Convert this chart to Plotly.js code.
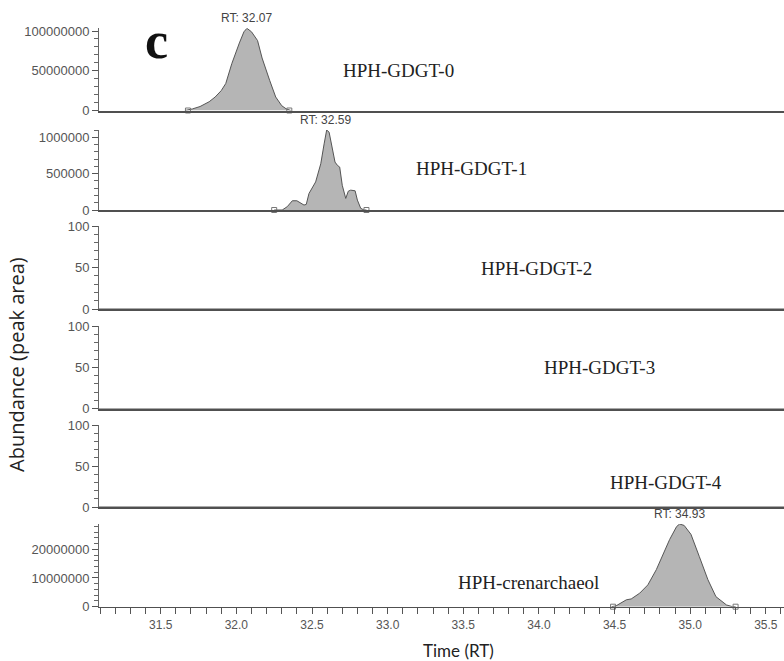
<!DOCTYPE html>
<html>
<head>
<meta charset="utf-8">
<script src="https://cdn.plot.ly/plotly-3.0.1.min.js"></script>
<style>html,body{margin:0;padding:0;background:#fff;}#chart{width:784px;height:661px;}</style>
</head>
<body>
<div id="chart"></div>
<script>
// ---- data ----
const compounds = ["HPH-GDGT-0", "HPH-GDGT-1", "HPH-GDGT-2", "HPH-GDGT-3", "HPH-GDGT-4", "HPH-crenarchaeol"];
const xRange = [31.092, 35.62];

// HPH-GDGT-0 chromatogram (retention time, abundance)
const rt0 = [31.66, 31.71, 31.76, 31.82, 31.86, 31.90, 31.93, 31.97, 32.02, 32.05, 32.07, 32.10, 32.14, 32.17, 32.22, 32.26, 32.30, 32.33, 32.36];
const ab0 = [0, 2e6, 5e6, 11e6, 17e6, 25e6, 34e6, 59e6, 85e6, 99e6, 103.4e6, 99e6, 88e6, 66e6, 38e6, 17e6, 6e6, 2e6, 0];

// HPH-GDGT-1 chromatogram
const rt1 = [32.25, 32.303, 32.336, 32.37, 32.40, 32.447, 32.462, 32.48, 32.524, 32.558, 32.58, 32.597, 32.613, 32.63, 32.652, 32.668, 32.683, 32.70, 32.723, 32.74, 32.756, 32.785, 32.80, 32.822, 32.844, 32.86];
const ab1 = [0, 0, 45000, 127000, 127000, 68000, 77000, 227000, 386000, 636000, 909000, 1100000, 1070000, 909000, 659000, 614000, 590000, 340000, 159000, 259000, 273000, 264000, 136000, 23000, 0, 0];

// HPH-crenarchaeol chromatogram
const rt5 = [34.48, 34.51, 34.578, 34.61, 34.666, 34.72, 34.776, 34.82, 34.864, 34.91, 34.93, 34.96, 35.005, 35.06, 35.117, 35.17, 35.24, 35.28, 35.30];
const ab5 = [0, 0.3e6, 2.4e6, 2.7e6, 4.7e6, 7.6e6, 12.9e6, 18.1e6, 23.4e6, 27.9e6, 28.8e6, 28.3e6, 25.2e6, 17.5e6, 9.4e6, 3.5e6, 0.6e6, 0, 0];

// empty traces (GDGT-2, -3, -4)
const rtFlat = [31.092, 35.62];
const abFlat = [0, 0];

// peak apex labels
const apexPanels = [1, 2, 6];
const apexRT = [32.07, 32.59, 34.93];
const apexAb = [103.4e6, 1.1e6, 28.8e6];
const apexText = ["RT: 32.07", "RT: 32.59", "RT: 34.93"];

// integration boundaries
const boundPanels = [1, 1, 2, 2, 6, 6];
const boundRT = [31.68, 32.35, 32.25, 32.86, 34.49, 35.30];

// y-axis ranges / tick steps per panel
const yMax = [103.4e6, 1.1e6, 100, 100, 100, 28.8e6];
const yDtick = [50e6, 5e5, 50, 50, 50, 10e6];
const yMinor = [10e6, 1e5, 10, 10, 10, 2e6];

// ---- layout geometry ----
const W = 784, H = 661, L = 99;
const panelPx = [[28.3, 110.5], [130, 210], [226, 309], [326, 408.5], [425, 507], [524, 606.7]];
const px2x = x => (x - L) / (W - L);
const px2y = y => 1 - y / H;

const xTickFont = {family: "Liberation Sans, Arial, sans-serif", size: 12, color: "#555"};
const yTickFont = {family: "Liberation Sans, Arial, sans-serif", size: 13, color: "#555"};
const serif = "Liberation Serif, Times New Roman, serif";

const series = [
  [rt0, ab0], [rt1, ab1], [rtFlat, abFlat], [rtFlat, abFlat], [rtFlat, abFlat], [rt5, ab5]
];

const traces = [];
series.forEach((s, i) => {
  const n = i + 1;
  const hasPeak = s[0].length > 2;
  traces.push({
    type: "scatter", mode: "lines",
    x: s[0], y: s[1],
    xaxis: "x" + n, yaxis: "y" + n,
    line: {color: "#555", width: 1},
    fill: hasPeak ? "tozeroy" : "none",
    fillcolor: "#b5b5b5",
    hoverinfo: "skip", showlegend: false
  });
});

// integration boundary markers
apexPanels.forEach(p => {
  const xs = [], ys = [];
  boundPanels.forEach((bp, j) => { if (bp === p) { xs.push(boundRT[j]); ys.push(0); } });
  traces.push({
    type: "scatter", mode: "markers", x: xs, y: ys,
    xaxis: "x" + p, yaxis: "y" + p,
    marker: {symbol: "square-open", size: 5, color: "#777", line: {width: 1, color: "#777"}},
    cliponaxis: false, hoverinfo: "skip", showlegend: false
  });
});

const layout = {
  width: W, height: H,
  margin: {l: L, r: 0, t: 0, b: 0},
  paper_bgcolor: "#fff", plot_bgcolor: "rgba(0,0,0,0)",
  showlegend: false,
  annotations: []
};

for (let i = 0; i < 6; i++) {
  const n = i + 1;
  const suf = n === 1 ? "" : String(n);
  const isBottom = n === 6;
  layout["xaxis" + suf] = {
    domain: [0, 1], anchor: "y" + n, range: xRange,
    showline: true, linecolor: "#505050", linewidth: isBottom ? 1.5 : 2,
    showgrid: false, zeroline: false,
    ticks: isBottom ? "outside" : "", ticklen: 6, tickwidth: 1, tickcolor: "#555",
    showticklabels: isBottom, tickfont: xTickFont,
    tick0: 0, dtick: 0.5, tickformat: ".1f",
    minor: isBottom ? {dtick: 0.1, tick0: 0, ticks: "outside", ticklen: 6, tickwidth: 1, tickcolor: "#555", showgrid: false} : undefined,
    fixedrange: true
  };
  layout["yaxis" + suf] = {
    domain: [px2y(panelPx[i][1]), px2y(panelPx[i][0])],
    anchor: "x" + n, range: [0, yMax[i]],
    showline: true, linecolor: "#666", linewidth: 1,
    showgrid: false, zeroline: false,
    ticks: "outside", ticklen: 6, tickwidth: 1, tickcolor: "#555",
    tickfont: yTickFont, tick0: 0, dtick: yDtick[i], tickformat: "d",
    minor: {dtick: yMinor[i], tick0: 0, ticks: "outside", ticklen: 4, tickwidth: 1, tickcolor: "#666", showgrid: false},
    fixedrange: true
  };
}

// apex labels
apexRT.forEach((rt, j) => {
  const p = apexPanels[j];
  layout.annotations.push({
    xref: "x" + p, yref: "y" + p, x: rt, y: apexAb[j],
    text: apexText[j], showarrow: false, yanchor: "bottom", xanchor: "center",
    yshift: 1, font: {family: "Liberation Sans, Arial, sans-serif", size: 12, color: "#444"}
  });
});

// compound labels
const labelPx = [[398, 70], [471, 168], [536, 268], [599, 367], [666, 482], [528, 582]];
compounds.forEach((c, j) => {
  layout.annotations.push({
    xref: "paper", yref: "paper", x: px2x(labelPx[j][0]), y: px2y(labelPx[j][1]),
    text: c, showarrow: false, xanchor: "center", yanchor: "middle",
    font: {family: serif, size: 19, color: "#222"}
  });
});

// panel letter
layout.annotations.push({
  xref: "paper", yref: "paper", x: px2x(156), y: px2y(40),
  text: "<b>c</b>", showarrow: false, xanchor: "center", yanchor: "middle",
  font: {family: serif, size: 52, color: "#111"}
});

// axis titles
layout.annotations.push({
  xref: "paper", yref: "paper", x: px2x(458), y: px2y(650),
  text: "Time (RT)", showarrow: false, xanchor: "center", yanchor: "middle",
  font: {family: "Lato, Open Sans, sans-serif", size: 17, color: "#222"}
});
layout.annotations.push({
  xref: "paper", yref: "paper", x: px2x(17), y: px2y(365),
  text: "Abundance (peak area)", showarrow: false, textangle: -90,
  xanchor: "center", yanchor: "middle",
  font: {family: "Open Sans, Lato, sans-serif", size: 20, color: "#222"}
});

Plotly.newPlot("chart", traces, layout, {staticPlot: true, displayModeBar: false});
</script>
</body>
</html>
